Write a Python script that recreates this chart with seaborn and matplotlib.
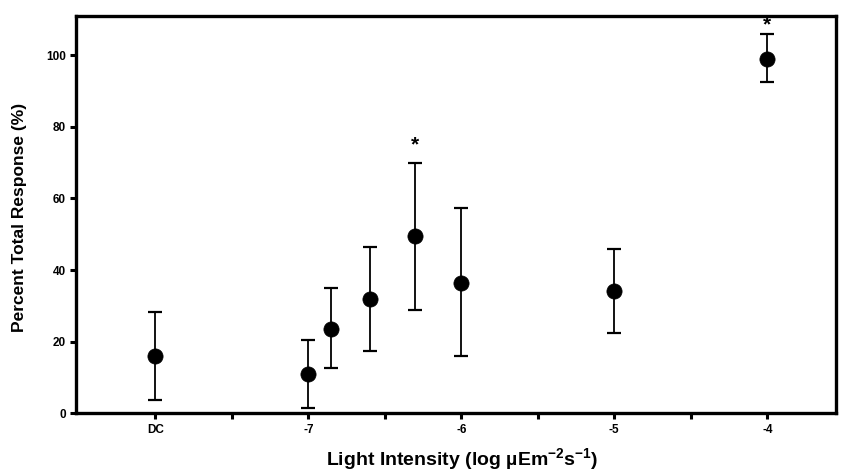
import matplotlib
matplotlib.use("Agg")
import matplotlib.pyplot as plt
import seaborn as sns
import pandas as pd
import numpy as np

# Data
x_pos = [-8.0, -7.0, -6.85, -6.6, -6.3, -6.0, -5.0, -4.0]
mean = [16.0, 11.0, 23.5, 32.0, 49.5, 36.5, 34.0, 99.0]
err_low = [3.7, 1.5, 12.5, 17.5, 28.8, 16.0, 22.5, 92.5]
err_high = [28.3, 20.5, 35.0, 46.5, 70.0, 57.3, 46.0, 106.0]
star_x = [-6.3, -4.0]
star_y = [75.0, 108.5]

xtick_pos = [-8.0, -7.0, -6.0, -5.0, -4.0]
xtick_labels = ["DC", "-7", "-6", "-5", "-4"]
xminor_pos = [-7.5, -6.5, -5.5, -4.5]
ytick_pos = [0, 20, 40, 60, 80, 100]

df = pd.DataFrame({"x": x_pos, "y": mean, "lo": err_low, "hi": err_high})

sns.set_theme(style="white")
plt.rcParams['font.family'] = ['Liberation Sans', 'DejaVu Sans']
plt.rcParams['mathtext.fontset'] = 'custom'
plt.rcParams['mathtext.rm'] = 'Liberation Sans'
plt.rcParams['mathtext.bf'] = 'Liberation Sans:bold'
plt.rcParams['mathtext.it'] = 'Liberation Sans:italic'
plt.rcParams['text.color'] = 'black'
plt.rcParams['axes.labelcolor'] = 'black'
plt.rcParams['xtick.color'] = 'black'
plt.rcParams['ytick.color'] = 'black'

fig = plt.figure(figsize=(8.42, 4.70), dpi=100)
ax = fig.add_axes([0.090, 0.121, 0.903, 0.845])

yerr = np.array([df["y"] - df["lo"], df["hi"] - df["y"]])
ax.errorbar(df["x"], df["y"], yerr=yerr, fmt="none", ecolor="black",
            elinewidth=1.3, capsize=5, capthick=1.6, zorder=2)
sns.scatterplot(data=df, x="x", y="y", ax=ax, color="black", s=120,
                edgecolor="black", linewidth=0.5, zorder=3, legend=False)

for sx, sy in zip(star_x, star_y):
    ax.text(sx, sy, "*", ha="center", va="center", fontsize=15,
            fontweight="bold", color="black")

ax.set_xlim(-8.52, -3.55)
ax.set_ylim(0, 111)
ax.set_xticks(xtick_pos)
ax.set_xticklabels(xtick_labels, fontsize=8.5, fontweight="bold")
ax.set_xticks(xminor_pos, minor=True)
ax.set_yticks(ytick_pos)
ax.set_yticklabels([str(v) for v in ytick_pos], fontsize=8.5, fontweight="bold")

ax.tick_params(axis="both", which="both", direction="out", length=4,
               width=2.2, color="black", bottom=True, left=True)
ax.tick_params(axis="x", which="major", pad=4, labelcolor="black")
ax.tick_params(axis="y", which="major", pad=3, labelcolor="black")

for sp in ax.spines.values():
    sp.set_visible(True)
    sp.set_color("black")
    sp.set_linewidth(2.4)

ax.set_xlabel(r"Light Intensity (log µEm$^{\mathbf{-2}}$s$^{\mathbf{-1}}$)",
              fontsize=14, fontweight="bold", color="black")
ax.xaxis.set_label_coords(0.508, -0.082)
ax.set_ylabel("Percent Total Response (%)", fontsize=12.5, fontweight="bold",
              color="black")
ax.yaxis.set_label_coords(-0.064, 0.494)
ax.grid(False)

fig.savefig("out.png", dpi=100, facecolor="white")
